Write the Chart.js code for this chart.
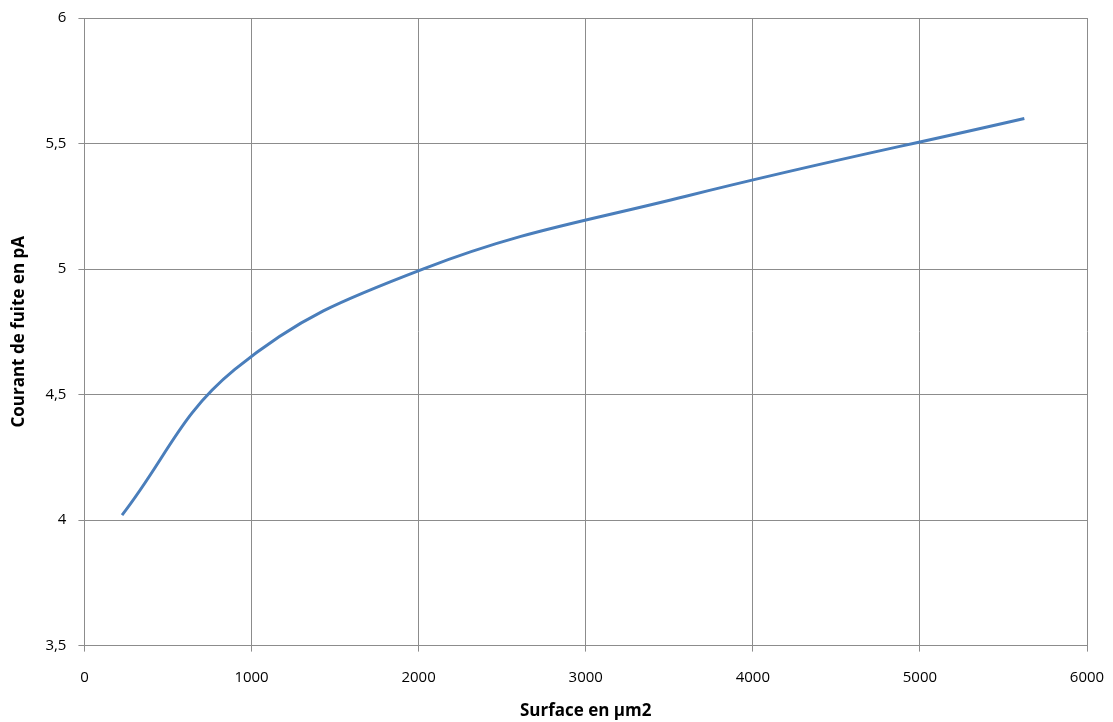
<!DOCTYPE html>
<html>
<head>
<meta charset="utf-8">
<script src="https://cdn.jsdelivr.net/npm/chart.js@4/dist/chart.umd.min.js"></script>
<style>
  html, body { margin: 0; padding: 0; background: #fff; }
  #wrap { width: 1113px; height: 722px; }
</style>
</head>
<body>
<div id="wrap"><canvas id="chart" width="1113" height="722"></canvas></div>
<script>
/* ---------- Data ---------- */
const SURFACE = [225, 900, 2025, 3600, 5625];      // µm2
const COURANT = [4.02, 4.60, 5.0, 5.29, 5.6];       // pA
const X_TICKS = [0, 1000, 2000, 3000, 4000, 5000, 6000];
const Y_TICKS = [3.5, 4, 4.5, 5, 5.5, 6];

const GRID = "#8c8c8c";
const TEXT = "#000";
const FONT = "'Open Sans', 'Liberation Sans', sans-serif";

const points = SURFACE.map((x, i) => ({x: x, y: COURANT[i]}));

new Chart(document.getElementById("chart"), {
  type: "scatter",
  data: {
    datasets: [{
      data: points,
      showLine: true,
      borderColor: "#4a7ebb",
      borderWidth: 3,
      pointRadius: 0,
      tension: 0.4,
      fill: false
    }]
  },
  options: {
    responsive: false,
    animation: false,
    layout: { padding: { left: 9, right: 26, top: 18, bottom: 1 } },
    plugins: { legend: { display: false }, tooltip: { enabled: false } },
    scales: {
      x: {
        type: "linear",
        min: X_TICKS[0],
        max: X_TICKS[X_TICKS.length - 1],
        afterBuildTicks: axis => { axis.ticks = X_TICKS.map(v => ({value: v})); },
        afterFit: axis => { axis.paddingLeft = 0; axis.paddingRight = 0; },
        grid: { color: GRID, lineWidth: 1, tickLength: 6, drawTicks: true },
        border: { color: GRID, width: 1 },
        ticks: { color: TEXT, font: { family: FONT, size: 15 }, padding: 17, maxRotation: 0,
                 callback: v => String(v) },
        title: { display: true, text: "Surface en µm2", color: TEXT,
                 font: { family: FONT, size: 17, weight: "bold" }, padding: { top: -3, bottom: 0 } }
      },
      y: {
        type: "linear",
        min: Y_TICKS[0],
        max: Y_TICKS[Y_TICKS.length - 1],
        afterBuildTicks: axis => { axis.ticks = Y_TICKS.map(v => ({value: v})); },
        afterFit: axis => { axis.paddingTop = 0; axis.paddingBottom = 0; },
        grid: { color: GRID, lineWidth: 1, tickLength: 6, drawTicks: true },
        border: { color: GRID, width: 1 },
        ticks: { color: TEXT, font: { family: FONT, size: 15 }, padding: 12,
                 callback: v => String(v).replace(".", ",") },
        title: { display: true, text: "Courant de fuite en pA", color: TEXT,
                 font: { family: FONT, size: 17, weight: "bold" }, padding: { top: 0, bottom: 4 } }
      }
    }
  }
});
</script>
</body>
</html>
